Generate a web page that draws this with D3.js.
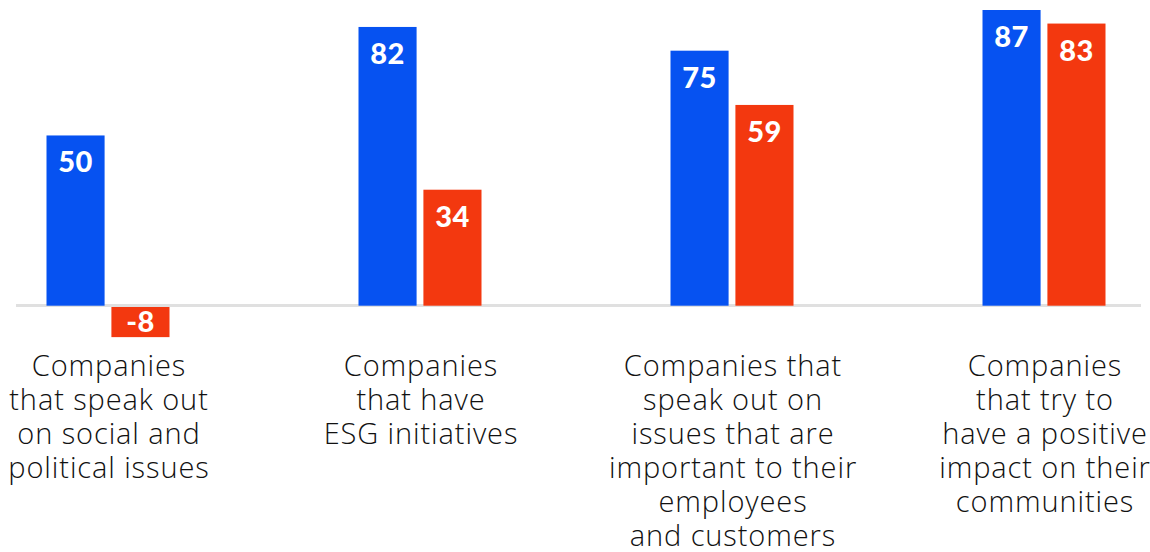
<!DOCTYPE html>
<html>
<head>
<meta charset="utf-8">
<script src="https://cdn.jsdelivr.net/npm/d3@7"></script>
<style>
  body { margin: 0; background: #fff; }
  svg { display: block; }
</style>
</head>
<body>
<div id="chart"></div>
<script>
// categories (one line per array entry) and the two series
var categories = [
  ["Companies", "that speak out", "on social and", "political issues"],
  ["Companies", "that have", "ESG initiatives"],
  ["Companies that", "speak out on", "issues that are", "important to their", "employees", "and customers"],
  ["Companies", "that try to", "have a positive", "impact on their", "communities"]
];
var seriesNames = ["blue", "red"];
var blueValues = [50, 82, 75, 87];
var redValues = [-8, 34, 59, 83];

var colors = { blue: "#0652F1", red: "#F3380F" };

var width = 1150, height = 552;

var svg = d3.select("#chart")
  .append("svg")
    .attr("width", width)
    .attr("height", height);

var rows = categories.map(function(c, i) {
  return { i: i, blue: blueValues[i], red: redValues[i] };
});

// outer band for groups, inner band for the two bars
var x0 = d3.scaleBand()
  .domain(d3.range(categories.length))
  .range([-48, 1200])
  .paddingInner(0)
  .paddingOuter(0);

var x1 = d3.scaleBand()
  .domain(seriesNames)
  .range([0, 123])
  .paddingInner(0.105);

var groupOffset = (x0.bandwidth() - 123) / 2;

var y = d3.scaleLinear()
  .domain([0, 87])
  .range([305, 10]);

// baseline
svg.append("line")
  .attr("x1", 16)
  .attr("x2", 1141)
  .attr("y1", y(0) + 0.5)
  .attr("y2", y(0) + 0.5)
  .attr("stroke", "#e0e0e0")
  .attr("stroke-width", 3);

var groups = svg.selectAll(".group")
  .data(rows)
  .enter().append("g")
    .attr("class", "group")
    .attr("transform", function(d) { return "translate(" + (x0(d.i) + groupOffset) + ",0)"; });

var bars = groups.selectAll(".bar")
  .data(function(d) { return seriesNames.map(function(k) { return { key: k, value: d[k] }; }); })
  .enter();

bars.append("rect")
  .attr("x", function(d) { return x1(d.key); })
  .attr("width", x1.bandwidth())
  .attr("y", function(d) { return d.value >= 0 ? y(d.value) : y(0) + 2; })
  .attr("height", function(d) { return Math.abs(y(d.value) - y(0)) + (d.value >= 0 ? 0.7 : 3); })
  .attr("fill", function(d) { return colors[d.key]; });

bars.append("text")
  .attr("x", function(d) { return x1(d.key) + x1.bandwidth() / 2; })
  .attr("y", function(d) { return d.value >= 0 ? y(d.value) + 37 : y(d.value) + 0; })
  .attr("text-anchor", "middle")
  .attr("fill", "#fff")
  .style("font-family", "Lato, 'Noto Sans', sans-serif")
  .style("font-weight", "900")
  .style("font-size", "29px")
  .style("letter-spacing", "0.5px")
  .text(function(d) { return d.value; });

// category labels, one text per line
groups.selectAll(".label")
  .data(function(d) { return categories[d.i]; })
  .enter().append("text")
    .attr("class", "label")
    .attr("x", 123 / 2 + 1)
    .attr("y", function(d, j) { return 376 + j * 34; })
    .attr("text-anchor", "middle")
    .attr("fill", "#111")
    .style("font-family", "'Open Sans', Lato, sans-serif")
    .style("font-weight", "300")
    .style("font-size", "29px")
    .style("letter-spacing", "0.9px")
    .text(function(d) { return d; });
</script>
</body>
</html>
